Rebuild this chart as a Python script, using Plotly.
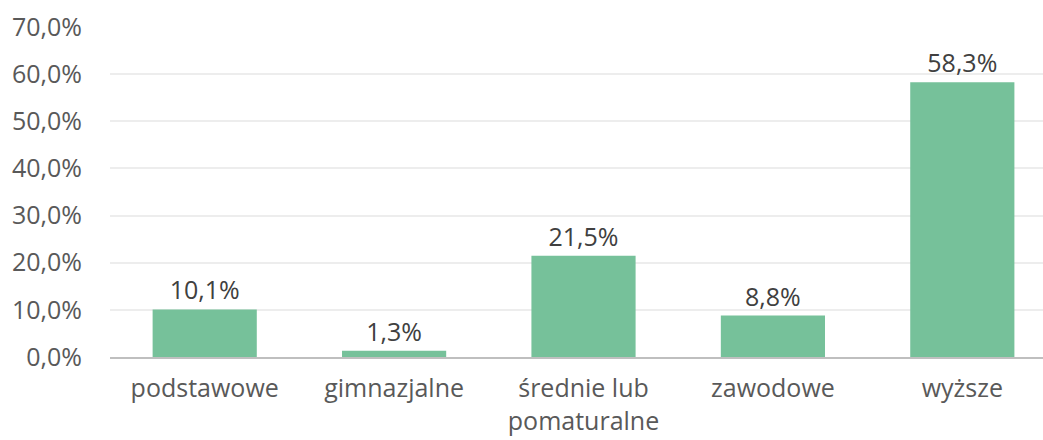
import plotly.graph_objects as go

categories = ["podstawowe", "gimnazjalne", "średnie lub<br>pomaturalne", "zawodowe", "wyższe"]
values = [10.1, 1.3, 21.5, 8.8, 58.3]
y_ticks = [0, 10, 20, 30, 40, 50, 60, 70]
y_tick_labels = [f"{v:.1f}%".replace(".", ",") for v in y_ticks]

font_family = "Open Sans"

fig = go.Figure(go.Bar(
    x=categories,
    y=values,
    marker=dict(color="#76C19A", line=dict(width=0)),
    texttemplate="%{y:.1f}%",
    textposition="outside",
    textfont=dict(family=font_family, size=25, color="#404040"),
    cliponaxis=False,
    width=0.55,
))

fig.update_layout(
    width=1043, height=440,
    margin=dict(l=110, r=0, t=27, b=83, autoexpand=False),
    plot_bgcolor="white", paper_bgcolor="white",
    separators=", ",
    showlegend=False,
    font=dict(family=font_family, size=25, color="#595959"),
)
fig.update_xaxes(
    range=[-0.5, 4.426], automargin=False,
    showline=True, linecolor="#BFBFBF", linewidth=2,
    ticks="", tickfont=dict(family=font_family, size=25, color="#595959"),
    ticklabelstandoff=8,
)
fig.update_yaxes(
    range=[0, 70], tickvals=y_ticks, ticktext=y_tick_labels, automargin=False,
    showgrid=True, gridcolor="#EDEDED", gridwidth=1.5,
    zeroline=False, ticks="", ticklabelstandoff=27,
    tickfont=dict(family=font_family, size=25, color="#595959"),
)

fig.write_html(
    "out.html",
    config={"displayModeBar": False},
    post_script="document.body.style.margin='0';document.body.style.overflow='hidden';",
)
